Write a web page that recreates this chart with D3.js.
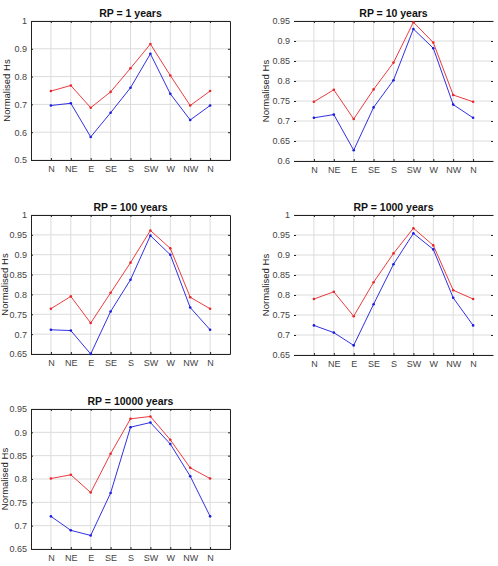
<!DOCTYPE html>
<html><head><meta charset="utf-8">
<script src="https://cdn.jsdelivr.net/npm/d3@7"></script>
<style>body{margin:0;background:#fff;} svg{display:block;}</style>
</head><body>
<svg id="c" width="498" height="566"></svg>
<script>
const categories = ["N","NE","E","SE","S","SW","W","NW","N"];
const titles = ["RP = 1 years","RP = 10 years","RP = 100 years","RP = 1000 years","RP = 10000 years"];
const rp1Red   = [0.748,0.768,0.688,0.745,0.830,0.917,0.804,0.696,0.748];
const rp1Blue  = [0.696,0.704,0.583,0.670,0.760,0.882,0.738,0.644,0.696];
const rp10Red  = [0.748,0.778,0.705,0.779,0.846,0.947,0.896,0.765,0.748];
const rp10Blue = [0.708,0.716,0.627,0.734,0.802,0.930,0.882,0.741,0.708];
const rp100Red  = [0.764,0.795,0.728,0.804,0.880,0.961,0.916,0.793,0.764];
const rp100Blue = [0.711,0.709,0.650,0.757,0.837,0.948,0.900,0.767,0.711];
const rp1000Red  = [0.790,0.808,0.747,0.832,0.904,0.967,0.924,0.812,0.790];
const rp1000Blue = [0.724,0.706,0.674,0.777,0.877,0.954,0.914,0.793,0.724];
const rp10000Red  = [0.801,0.809,0.771,0.854,0.929,0.934,0.884,0.824,0.801];
const rp10000Blue = [0.720,0.690,0.679,0.770,0.911,0.921,0.875,0.806,0.720];
const yTicks1 = [0.5,0.6,0.7,0.8,0.9,1];
const yTicks10 = [0.6,0.65,0.7,0.75,0.8,0.85,0.9,0.95];
const yTicks100 = [0.65,0.7,0.75,0.8,0.85,0.9,0.95,1];
const yTicks1000 = [0.65,0.7,0.75,0.8,0.85,0.9,0.95,1];
const yTicks10000 = [0.65,0.7,0.75,0.8,0.85,0.9,0.95];

const panels = [
  {title:titles[0], red:rp1Red, blue:rp1Blue, ticks:yTicks1, box:[31,21,230,160], full:true, lab:24},
  {title:titles[1], red:rp10Red, blue:rp10Blue, ticks:yTicks10, box:[294,21,493,161], full:false, lab:28},
  {title:titles[2], red:rp100Red, blue:rp100Blue, ticks:yTicks100, box:[31,215,230,354], full:true, lab:26},
  {title:titles[3], red:rp1000Red, blue:rp1000Blue, ticks:yTicks1000, box:[294,215,493,355], full:false, lab:28},
  {title:titles[4], red:rp10000Red, blue:rp10000Blue, ticks:yTicks10000, box:[31,409,230,549], full:true, lab:26}
];

const svg = d3.select("#c");
const font = "'Liberation Sans', Arial, sans-serif";

panels.forEach(p => {
  const [x0,y0,x1,y1] = p.box;
  const x = d3.scaleLinear().domain([0,10]).range([x0,x1]);
  const y = d3.scaleLinear().domain([p.ticks[0], p.ticks[p.ticks.length-1]]).range([y1,y0]);
  const g = svg.append("g");
  const idx = d3.range(1,10);
  g.selectAll(".gx").data(idx).join("line")
    .attr("x1",d=>x(d)).attr("x2",d=>x(d)).attr("y1",y0).attr("y2",y1)
    .attr("stroke","#dcdcdc").attr("stroke-width",1);
  g.selectAll(".gy").data(p.ticks).join("line")
    .attr("x1",x0).attr("x2",x1).attr("y1",d=>y(d)).attr("y2",d=>y(d))
    .attr("stroke","#dcdcdc").attr("stroke-width",1);
  const ax = d3.axisBottom(x).tickValues(idx).tickFormat(d=>categories[d-1]).tickSizeInner(-2).tickSizeOuter(0).tickPadding(6);
  const axT = d3.axisTop(x).tickValues(idx).tickFormat("").tickSizeInner(-2).tickSizeOuter(0);
  const ay = d3.axisLeft(y).tickValues(p.ticks).tickFormat(d=>d3.format("")(+d.toFixed(2))).tickSizeInner(-2).tickSizeOuter(0).tickPadding(4);
  const ayR = d3.axisRight(y).tickValues(p.ticks).tickFormat("").tickSizeInner(-2).tickSizeOuter(0);
  const style = s => { s.selectAll("text").attr("font-family",font).attr("font-size",9).attr("fill","#444");
                       s.selectAll(".tick line").attr("stroke","#222"); };
  const gb = g.append("g").attr("transform",`translate(0,${y1})`).call(ax).call(style);
  const gt = g.append("g").attr("transform",`translate(0,${y0})`).call(axT).call(style);
  const gl = g.append("g").attr("transform",`translate(${x0},0)`).call(ay).call(style);
  const gr = g.append("g").attr("transform",`translate(${x1},0)`).call(ayR).call(style);
  gb.select(".domain").attr("stroke","#222");
  gt.select(".domain").attr("stroke","#222");
  if (p.full) { gl.select(".domain").attr("stroke","#222"); gr.select(".domain").attr("stroke","#222"); }
  else { gl.select(".domain").remove(); gr.select(".domain").remove(); }
  const line = d3.line().x((d,i)=>x(i+1)).y(d=>y(d));
  [[p.red,"#e8262a"],[p.blue,"#1a1ae0"]].forEach(([vals,col]) => {
    g.append("path").datum(vals).attr("d",line).attr("fill","none").attr("stroke",col).attr("stroke-width",0.9);
    g.selectAll(null).data(vals).join("circle").attr("cx",(d,i)=>x(i+1)).attr("cy",d=>y(d)).attr("r",1.3).attr("fill",col);
  });
  g.append("text").attr("x",(x0+x1)/2).attr("y",y0-4).attr("text-anchor","middle")
    .attr("font-family",font).attr("font-size",10.5).attr("font-weight","bold").attr("fill","#111").text(p.title);
  g.append("text").attr("transform",`translate(${x0-p.lab},${(y0+y1)/2}) rotate(-90)`).attr("text-anchor","middle")
    .attr("dominant-baseline","middle")
    .attr("font-family",font).attr("font-size",9.5).attr("fill","#222").text("Normalised Hs");
});
</script>
</body></html>
